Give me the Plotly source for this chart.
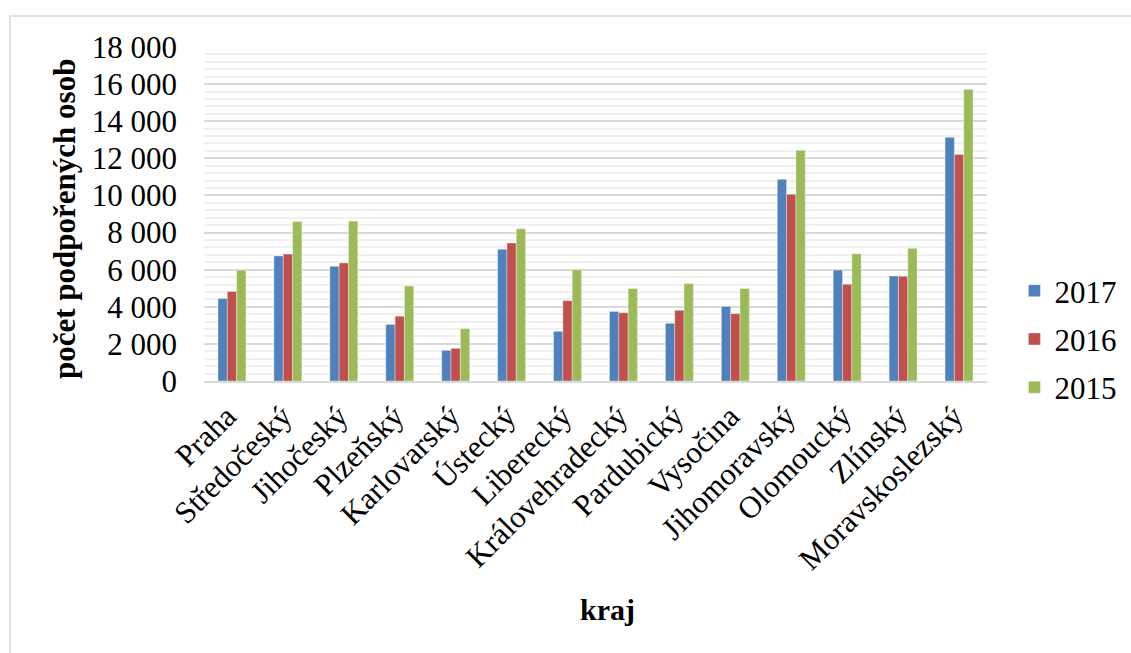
import plotly.graph_objects as go

# Regions and yearly counts of supported persons
kraje = ["Praha", "Středočeský", "Jihočeský", "Plzeňský", "Karlovarský", "Ústecký",
         "Liberecký", "Královehradecký", "Pardubický", "Vysočina", "Jihomoravský",
         "Olomoucký", "Zlínský", "Moravskoslezský"]
r2017 = [4440, 6740, 6180, 3050, 1650, 7100, 2680, 3750, 3110, 4020, 10870, 5980, 5660, 13130]
r2016 = [4830, 6840, 6360, 3490, 1760, 7440, 4330, 3680, 3810, 3630, 10060, 5210, 5640, 12200]
r2015 = [5970, 8590, 8620, 5120, 2820, 8210, 6000, 4990, 5260, 4990, 12430, 6860, 7150, 15720]
years = ["2017", "2016", "2015"]
colors = ["#4F81BD", "#C0504D", "#9BBB59"]
y_ticks = list(range(0, 18001, 2000))

W, H = 1131, 653
L, R, T, B = 204, 144, 47, 272
pw, ph = W - L - R, H - T - B

font = "Liberation Serif, Times New Roman, serif"

fig = go.Figure()
for name, vals, col in zip(years, [r2017, r2016, r2015], colors):
    fig.add_trace(go.Bar(
        x=kraje, y=vals, name=name, legendgroup=name,
        marker=dict(color=col, line=dict(color="rgba(255,255,255,0.6)", width=0.6)),
    ))

# chart frame (extends past the bottom/right edge of the page)
fig.add_shape(type="rect", xref="paper", yref="paper",
              x0=(10 - L) / pw, x1=(W + 20 - L) / pw,
              y0=-(B + 20) / ph, y1=(H - B - 16) / ph,
              line=dict(color="#D9D9D9", width=1.5), layer="below")

fig.add_annotation(text="<b>počet podpořených osob</b>", xref="paper", yref="paper",
                   x=(64 - L) / pw, y=(H - B - 219) / ph, textangle=-90,
                   xanchor="center", yanchor="middle",
                   showarrow=False, font=dict(family=font, size=31, color="black"))
fig.add_annotation(text="<b>kraj</b>", xref="paper", yref="paper",
                   x=(607 - L) / pw, y=-(609 - (H - B)) / ph,
                   xanchor="center", yanchor="middle",
                   showarrow=False, font=dict(family=font, size=30, color="black"))

fig.update_layout(
    width=W, height=H,
    margin=dict(l=L, r=R, t=T, b=B, autoexpand=False),
    paper_bgcolor="white", plot_bgcolor="white",
    barmode="group", bargap=0.5, bargroupgap=0,
    separators=", ",
    font=dict(family=font, size=31, color="black"),
    showlegend=True,
    legend=dict(x=1.035, y=(H - B - 339) / ph, yanchor="middle", xanchor="left",
                font=dict(family=font, size=31), tracegroupgap=5,
                itemwidth=30, bgcolor="rgba(0,0,0,0)"),
)
fig.update_xaxes(tickangle=-45, showgrid=False, showline=True, linecolor="#D9D9D9",
                 linewidth=1.5, ticks="", tickfont=dict(family=font, size=31),
                 ticklabelshift=-5, ticklabelstandoff=3)
fig.update_yaxes(range=[0, 18000], tickvals=y_ticks, tickformat=",d",
                 showgrid=True, gridcolor="#D9D9D9", gridwidth=1.5,
                 minor=dict(dtick=400, showgrid=True, gridcolor="#F0F0F0", gridwidth=1.5),
                 zeroline=False, showline=False, ticks="",
                 ticklabelstandoff=26, tickfont=dict(family=font, size=31))

fig.write_html("out.html")
